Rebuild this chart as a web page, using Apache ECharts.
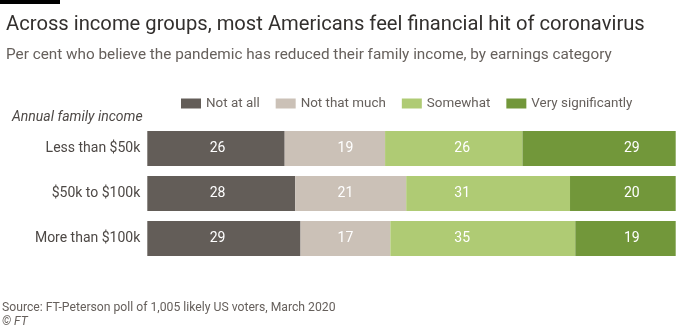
<!DOCTYPE html>
<html>
<head>
<meta charset="utf-8">
<style>
html,body{margin:0;padding:0;background:#fff;}
#c{width:700px;height:332px;}
</style>
<script src="https://cdn.jsdelivr.net/npm/echarts@6/dist/echarts.min.js"></script>
</head>
<body>
<div id="c"></div>
<script>
const categories = ['Less than $50k', '$50k to $100k', 'More than $100k'];
const seriesNames = ['Not at all', 'Not that much', 'Somewhat', 'Very significantly'];
const notAtAll = [26, 28, 29];
const notThatMuch = [19, 21, 17];
const somewhat = [26, 31, 35];
const verySignificantly = [29, 20, 19];
// label column positions (in % units along the axis)
const labelColumns = [13.3, 37.5, 59.6, 91.7];

const values = [notAtAll, notThatMuch, somewhat, verySignificantly];
const colors = ['#635d58', '#cbc1b7', '#afcb74', '#72973a'];
const FONT = 'Roboto';

const chart = echarts.init(document.getElementById('c'), null, {renderer: 'canvas'});

function buildSeries(offsets) {
  return values.map((arr, si) => ({
    name: seriesNames[si],
    type: 'bar',
    stack: 'total',
    barWidth: 35,
    itemStyle: {color: colors[si]},
    emphasis: {disabled: true},
    data: arr.map((v, ci) => ({
      value: v,
      label: {
        show: true,
        position: offsets ? [offsets[si][ci], '50%'] : 'inside',
        align: 'center',
        verticalAlign: 'middle',
        color: '#ffffff',
        fontFamily: FONT,
        fontSize: 14
      }
    }))
  }));
}

chart.setOption({
  animation: false,
  backgroundColor: '#ffffff',
  textStyle: {fontFamily: FONT},
  title: [{
    text: 'Across income groups, most Americans feel financial hit of coronavirus',
    left: 1, top: 10,
    textStyle: {fontFamily: FONT, fontSize: 20.2, fontWeight: 'normal', color: '#33302e'}
  }, {
    text: 'Per cent who believe the pandemic has reduced their family income, by earnings category',
    left: 1, top: 43,
    textStyle: {fontFamily: FONT, fontSize: 15.3, fontWeight: 'normal', color: '#66605c'}
  }],
  legend: {
    left: 176, top: 92,
    itemWidth: 20, itemHeight: 10, itemGap: 16,
    icon: 'rect',
    selectedMode: false,
    textStyle: {fontFamily: FONT, fontSize: 13.4, color: '#66605c'},
    data: seriesNames
  },
  grid: {left: 147.3, right: 24.3, top: 126, height: 135, containLabel: false},
  xAxis: {
    type: 'value', min: 0, max: 100,
    show: false
  },
  yAxis: {
    type: 'category',
    data: categories,
    inverse: true,
    axisLine: {show: false},
    axisTick: {show: false},
    axisLabel: {fontFamily: FONT, fontSize: 14, color: '#4d4845', margin: 7}
  },
  graphic: [
    {type: 'rect', left: 0, top: 0, shape: {width: 60, height: 4}, style: {fill: '#000'}},
    {type: 'text', left: 12, top: 110, style: {text: 'Annual family income', fontFamily: FONT, fontStyle: 'italic', fontSize: 14, fill: '#4d4845'}},
    {type: 'text', left: 2, top: 302, style: {text: 'Source: FT-Peterson poll of 1,005 likely US voters, March 2020', fontFamily: FONT, fontSize: 12.2, fill: '#66605c'}},
    {type: 'text', left: 2, top: 316, style: {text: '© FT', fontFamily: FONT, fontStyle: 'italic', fontSize: 12, fill: '#66605c'}}
  ],
  series: buildSeries(null)
});

// place labels at fixed columns, computed through the axis scale
const offsets = values.map((arr, si) => arr.map((v, ci) => {
  let start = 0;
  for (let k = 0; k < si; k++) start += values[k][ci];
  const sPx = chart.convertToPixel({gridIndex: 0}, [start, 0])[0];
  const cPx = chart.convertToPixel({gridIndex: 0}, [labelColumns[si], 0])[0];
  return cPx - sPx;
}));
chart.setOption({series: buildSeries(offsets)});
</script>
</body>
</html>
